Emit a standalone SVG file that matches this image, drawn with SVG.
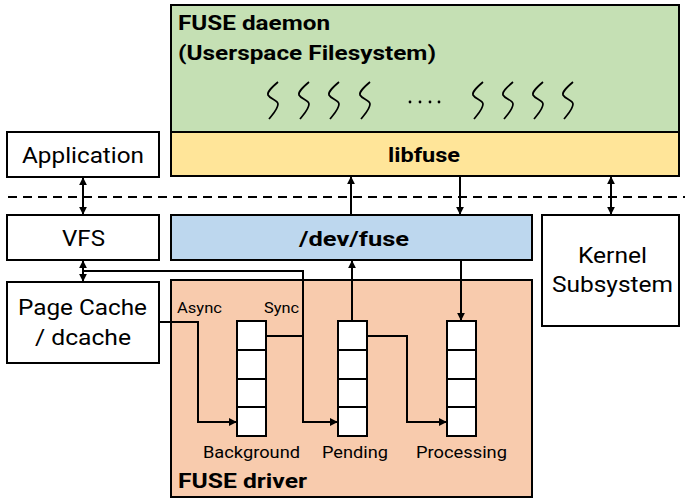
<svg xmlns="http://www.w3.org/2000/svg" width="685" height="503" viewBox="0 0 685 503">
<style>
.box{stroke:#000;stroke-width:2}
.t{font-family:Roboto,"Liberation Sans",sans-serif;fill:#000}
.b{font-weight:bold}
.c{fill:none;stroke:#000;stroke-width:2}
.sq{fill:none;stroke:#000;stroke-width:1.7}
.cell{fill:#fff;stroke:#000;stroke-width:2}
</style>
<defs>
<marker id="ah" viewBox="0 0 10 10" refX="9" refY="5" markerWidth="4" markerHeight="4" orient="auto-start-reverse" markerUnits="strokeWidth">
<path d="M0,0L10,5L0,10z" fill="#000"/>
</marker>
<path id="sq" class="sq" d="M5,0 C-2,6 -6,10 -5,13 C-3,17 5,18 5,22 C5,27 0,32 -4,37"/>
</defs>
<rect width="685" height="503" fill="#fff"/>
<line x1="8" y1="197" x2="685" y2="197" stroke="#000" stroke-width="2" stroke-dasharray="9,6"/>

<g id="fuse-daemon">
<rect class="box" x="171" y="5" width="508" height="127" fill="#c5e0b4"/>
<text class="t b" x="178" y="30" font-size="21" textLength="152" lengthAdjust="spacingAndGlyphs">FUSE daemon</text>
<text class="t b" x="178" y="60" font-size="21" textLength="258" lengthAdjust="spacingAndGlyphs">(Userspace Filesystem)</text>
<g id="threads">
<use href="#sq" x="273" y="82"/>
<use href="#sq" x="304" y="82"/>
<use href="#sq" x="334" y="82"/>
<use href="#sq" x="365" y="82"/>
<circle cx="410" cy="102" r="1.4"/>
<circle cx="420" cy="102" r="1.4"/>
<circle cx="430" cy="102" r="1.4"/>
<circle cx="439" cy="102" r="1.4"/>
<use href="#sq" x="478" y="82"/>
<use href="#sq" x="508" y="82"/>
<use href="#sq" x="538" y="82"/>
<use href="#sq" x="568" y="82"/>
</g>
</g>

<g id="libfuse">
<rect class="box" x="171" y="132" width="508" height="44" fill="#ffe599"/>
<text class="t b" x="388" y="162" font-size="21" textLength="72" lengthAdjust="spacingAndGlyphs">libfuse</text>
</g>

<g id="application">
<rect class="box" x="7" y="132" width="152" height="45" fill="#fff"/>
<text class="t" x="22" y="163" font-size="22" textLength="122" lengthAdjust="spacingAndGlyphs">Application</text>
</g>

<g id="vfs">
<rect class="box" x="7" y="215" width="152" height="45" fill="#fff"/>
<text class="t" x="62" y="246" font-size="22" textLength="43" lengthAdjust="spacingAndGlyphs">VFS</text>
</g>

<g id="page-cache">
<rect class="box" x="7" y="282" width="152" height="81" fill="#fff"/>
<text class="t" x="18" y="315" font-size="22" textLength="129" lengthAdjust="spacingAndGlyphs">Page Cache</text>
<text class="t" x="35" y="345" font-size="22" textLength="96" lengthAdjust="spacingAndGlyphs">/ dcache</text>
</g>

<g id="dev-fuse">
<rect class="box" x="171" y="215" width="361" height="45" fill="#bdd7ee"/>
<text class="t b" x="299" y="246" font-size="21" textLength="110" lengthAdjust="spacingAndGlyphs">/dev/fuse</text>
</g>

<g id="kernel-subsystem">
<rect class="box" x="542" y="215" width="137" height="111" fill="#fff"/>
<text class="t" x="578" y="263" font-size="22" textLength="69" lengthAdjust="spacingAndGlyphs">Kernel</text>
<text class="t" x="552" y="292" font-size="22" textLength="121" lengthAdjust="spacingAndGlyphs">Subsystem</text>
</g>

<g id="fuse-driver">
<rect class="box" x="171" y="280" width="361" height="217" fill="#f8cbad"/>
<text class="t b" x="178" y="488" font-size="21" textLength="129" lengthAdjust="spacingAndGlyphs">FUSE driver</text>
<text class="t" x="177" y="313" font-size="15" textLength="45" lengthAdjust="spacingAndGlyphs">Async</text>
<text class="t" x="264" y="313" font-size="15" textLength="35" lengthAdjust="spacingAndGlyphs">Sync</text>
</g>

<g id="background-queue">
<rect class="cell" x="237" y="321" width="29" height="29"/>
<rect class="cell" x="237" y="350" width="29" height="29"/>
<rect class="cell" x="237" y="379" width="29" height="28"/>
<rect class="cell" x="237" y="407" width="29" height="29"/>
<text class="t" x="203" y="458" font-size="17" textLength="97" lengthAdjust="spacingAndGlyphs">Background</text>
</g>

<g id="pending-queue">
<rect class="cell" x="338" y="321" width="29" height="29"/>
<rect class="cell" x="338" y="350" width="29" height="29"/>
<rect class="cell" x="338" y="379" width="29" height="28"/>
<rect class="cell" x="338" y="407" width="29" height="29"/>
<text class="t" x="322" y="458" font-size="17" textLength="66" lengthAdjust="spacingAndGlyphs">Pending</text>
</g>

<g id="processing-queue">
<rect class="cell" x="447" y="321" width="29" height="29"/>
<rect class="cell" x="447" y="350" width="29" height="29"/>
<rect class="cell" x="447" y="379" width="29" height="28"/>
<rect class="cell" x="447" y="407" width="29" height="29"/>
<text class="t" x="416" y="458" font-size="17" textLength="91" lengthAdjust="spacingAndGlyphs">Processing</text>
</g>

<g id="connectors">
<line class="c" x1="83" y1="178" x2="83" y2="214" marker-start="url(#ah)" marker-end="url(#ah)"/>
<line class="c" x1="83" y1="261" x2="83" y2="281" marker-start="url(#ah)" marker-end="url(#ah)"/>
<path class="c" d="M83,271 H303 V422 H337" marker-end="url(#ah)"/>
<path class="c" d="M266,336 H303"/>
<path class="c" d="M159,322 H198 V422 H236" marker-end="url(#ah)"/>
<path class="c" d="M367,336 H407 V422 H446" marker-end="url(#ah)"/>
<line class="c" x1="352" y1="321" x2="352" y2="261" marker-end="url(#ah)"/>
<line class="c" x1="461" y1="260" x2="461" y2="320" marker-end="url(#ah)"/>
<line class="c" x1="351" y1="215" x2="351" y2="177" marker-end="url(#ah)"/>
<line class="c" x1="460" y1="176" x2="460" y2="214" marker-end="url(#ah)"/>
<line class="c" x1="611" y1="177" x2="611" y2="214" marker-start="url(#ah)" marker-end="url(#ah)"/>
</g>
</svg>
